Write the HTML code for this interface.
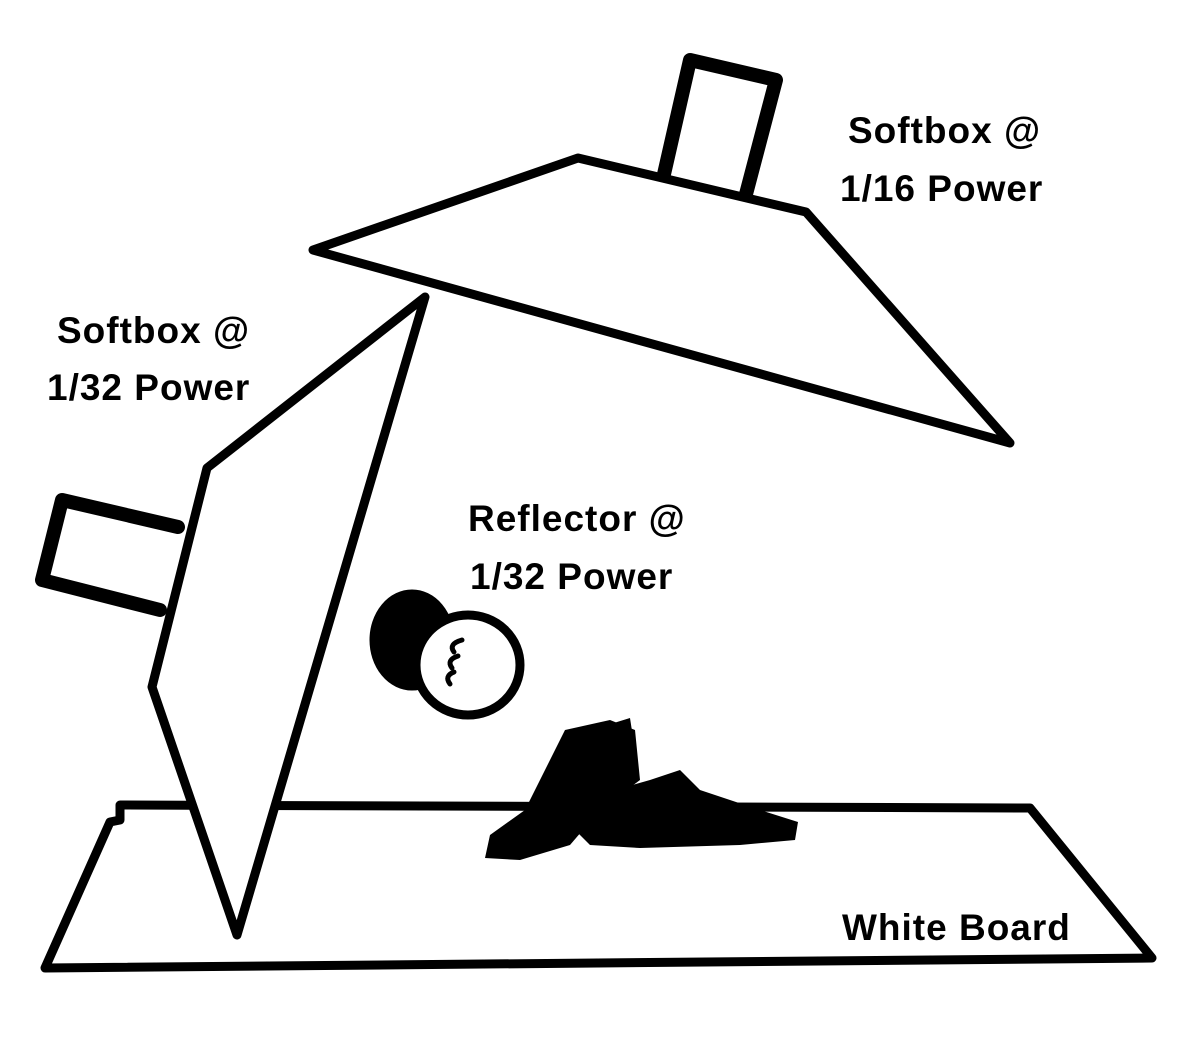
<!DOCTYPE html>
<html><head><meta charset="utf-8"><style>
html,body{margin:0;padding:0;background:#fff;}
svg{display:block;}
text{font-family:"Liberation Sans",sans-serif;font-weight:bold;font-size:37px;fill:#000;letter-spacing:1px;}
</style></head><body>
<svg width="1196" height="1041" viewBox="0 0 1196 1041">
<g fill="#fff" stroke="#000" stroke-width="9" stroke-linejoin="round" stroke-linecap="round">
<polygon points="120,805 1030,808 1152,958 45,968 110,822 120,820"/>
<polyline points="662,183 690,60 776,80 745,198" fill="none" stroke-width="14"/>
<polygon points="313,250 578,158 806,212 1010,443"/>
<polyline points="178,527 62,500 42,580 160,610" fill="none" stroke-width="14"/>
<polygon points="425,297 207,468 152,687 237,935"/>
<ellipse cx="412" cy="640" rx="38" ry="46" fill="#000" stroke="#000"/>
<ellipse cx="468" cy="665" rx="52" ry="50"/>
<path d="M462,640 q-14,4 -8,12 M458,656 q-12,4 -6,12 M454,672 q-10,4 -4,12" fill="none" stroke-width="5"/>
</g>
<g fill="#000">
<path d="M565,730 L610,720 L635,730 L640,780 L600,810 L570,845 L520,860 L485,858 L490,835 L525,810 L545,770 Z"/>
<path d="M580,800 L650,780 L680,770 L700,790 L760,810 L798,822 L795,840 L740,845 L640,848 L590,845 L575,830 Z"/>
<path d="M575,735 L630,718 L638,770 L600,790 Z"/>
</g>
<text x="848" y="143">Softbox @</text>
<text x="840" y="201">1/16 Power</text>
<text x="57" y="343">Softbox @</text>
<text x="47" y="400">1/32 Power</text>
<text x="468" y="531">Reflector @</text>
<text x="470" y="589">1/32 Power</text>
<text x="842" y="940">White Board</text>
</svg>
</body></html>
